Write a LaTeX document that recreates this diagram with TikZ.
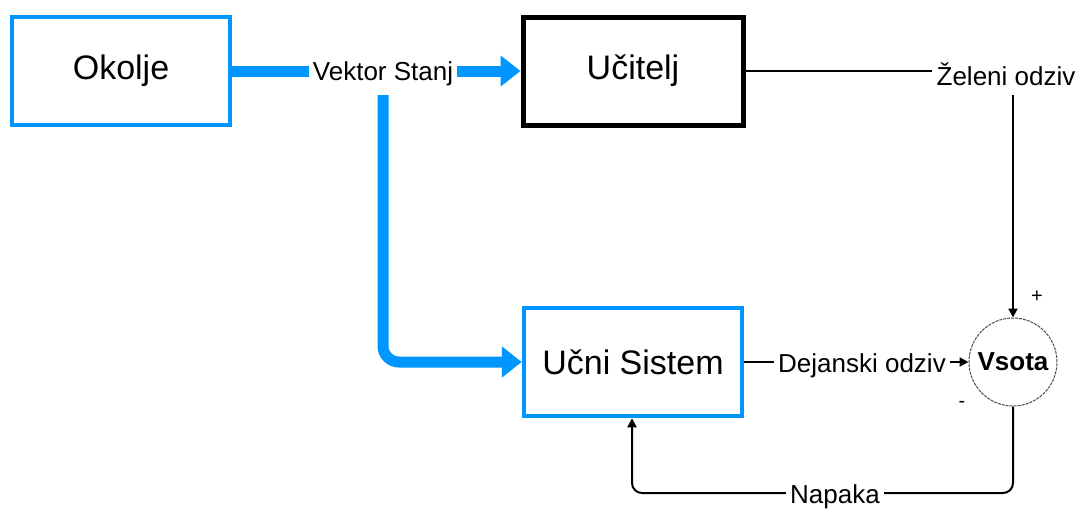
\documentclass[tikz,border=0pt]{standalone}
\usepackage{fontspec}
\setmainfont{Liberation Sans}
\usetikzlibrary{arrows.meta}
\definecolor{myblue}{RGB}{0,150,255}
\tikzset{
  bluebox/.style={draw=myblue, line width=4.5pt, minimum width=218pt, minimum height=108pt, font=\fontsize{34}{40}\selectfont, inner sep=0pt},
  blackbox/.style={draw=black, line width=5pt, minimum width=220pt, minimum height=108pt, font=\fontsize{34}{40}\selectfont, inner sep=0pt},
  lbl/.style={font=\fontsize{26}{30}\selectfont, inner sep=4pt},
  bluearrow/.style={draw=myblue, line width=11pt, -{Triangle[length=20pt,width=30pt]}},
  blueline/.style={draw=myblue, line width=11pt},
  thin/.style={draw=black, line width=2pt},
  thinarrow/.style={draw=black, line width=2pt, -{Triangle[length=9pt,width=9pt]}},
  sumnode/.style={circle, draw=black!70, line width=1pt, dash pattern=on 3pt off 1pt, minimum size=88pt, inner sep=0pt, font=\bfseries\fontsize{26}{30}\selectfont},
}
\begin{document}
\begin{tikzpicture}[x=1pt,y=-1pt]
\useasboundingbox (0,0) rectangle (1080,512);
\node[bluebox] (ok) at (121,71) {Okolje};
\node[blackbox] (uc) at (633,71) {Učitelj};
\node[bluebox] (us) at (633,362) {Učni Sistem};
\node[sumnode] (sum) at (1013,362) {Vsota};
\node[lbl] (vs) at (383,74) {Vektor Stanj};
\node[lbl] (zo) at (1006,74) {Želeni odziv};
\node[lbl] (do) at (862,366) {Dejanski odziv};
\node[lbl] (np) at (835,497) {Napaka};
\node[font=\fontsize{20}{24}\selectfont, inner sep=0pt] (plus) at (1037,297) {+};
\node[font=\fontsize{20}{24}\selectfont, inner sep=0pt] (minus) at (962,404) {-};
\coordinate (vsbot) at (383,95);
\coordinate (zobot) at (1013,95);
\coordinate (nbot) at (1013,493);
\coordinate (nleft) at (632,493);
% blue connectors
\draw[blueline] (ok.east) -- (vs.west |- ok.east);
\draw[bluearrow] (vs.east |- uc.west) -- (uc.west);
\draw[bluearrow, rounded corners=16pt] (vsbot) |- (us.west);
% black connectors
\draw[thin] (uc.east) -- (zo.west |- uc.east);
\draw[thinarrow] (zobot) -- (zobot |- sum.north);
\draw[thin] (us.east) -- (do.west |- us.east);
\draw[thinarrow] (do.east |- sum.west) -- (sum.west);
\draw[thin, rounded corners=10pt] (sum.south) -- (nbot) -- (np.east |- nbot);
\draw[thinarrow, rounded corners=10pt] (np.west |- nleft) -- (nleft) -- (nleft |- us.south);
\end{tikzpicture}
\end{document}
